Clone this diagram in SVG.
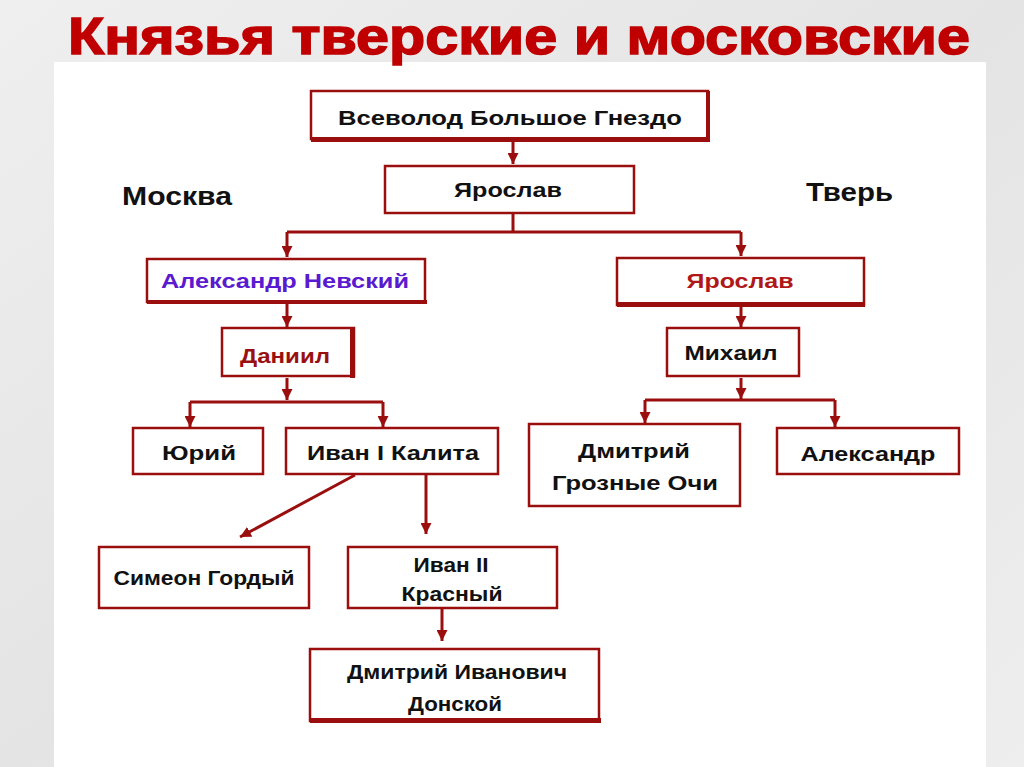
<svg xmlns="http://www.w3.org/2000/svg" width="1024" height="767" viewBox="0 0 1024 767">
<defs>
<style>
.box{fill:#fff;stroke:#9a0e0e;stroke-width:2.5}
.sh{fill:#9a0e0e}
.t{font-family:"Liberation Sans",Arial,sans-serif;font-weight:bold;font-size:20px;fill:#111;text-anchor:middle}
.lbl{font-family:"Liberation Sans",Arial,sans-serif;font-weight:bold;font-size:26px;fill:#111}
.c{fill:none;stroke:#9a0e0e;stroke-width:3}
</style>
<marker id="ah" viewBox="0 0 10 10" refX="10" refY="5" markerWidth="11" markerHeight="11" orient="auto" markerUnits="userSpaceOnUse">
<path d="M0,0 L10,5 L0,10 Z" fill="#9a0e0e"/>
</marker>
<linearGradient id="bg" x1="0" y1="0" x2="1" y2="1">
<stop offset="0" stop-color="#efefef"/>
<stop offset="0.5" stop-color="#e4e4e4"/>
<stop offset="1" stop-color="#eeeeee"/>
</linearGradient>
</defs>
<rect x="0" y="0" width="1024" height="767" fill="url(#bg)"/>
<rect x="54" y="62" width="932" height="705" fill="#fff"/>
<text x="68" y="54" textLength="902" lengthAdjust="spacingAndGlyphs" font-family="'Liberation Sans',Arial,sans-serif" font-weight="bold" font-size="52" fill="#c00000" stroke="#c00000" stroke-width="1.5">Князья тверские и московские</text>

<text class="lbl" x="122" y="205" textLength="110" lengthAdjust="spacingAndGlyphs">Москва</text>
<text class="lbl" x="806" y="201" textLength="87" lengthAdjust="spacingAndGlyphs">Тверь</text>

<g id="connectors">
<path class="c" d="M513,141 V164" marker-end="url(#ah)"/>
<path class="c" d="M513,213 V232"/>
<path class="c" d="M287,232 H741"/>
<path class="c" d="M287,232 V257" marker-end="url(#ah)"/>
<path class="c" d="M741,232 V256" marker-end="url(#ah)"/>
<path class="c" d="M287,304 V327" marker-end="url(#ah)"/>
<path class="c" d="M741,307 V327" marker-end="url(#ah)"/>
<path class="c" d="M287,378 V400" marker-end="url(#ah)"/>
<path class="c" d="M741,378 V399" marker-end="url(#ah)"/>
<path class="c" d="M190,402 H383"/>
<path class="c" d="M190,402 V427" marker-end="url(#ah)"/>
<path class="c" d="M383,402 V427" marker-end="url(#ah)"/>
<path class="c" d="M645,400 H835"/>
<path class="c" d="M645,400 V423" marker-end="url(#ah)"/>
<path class="c" d="M835,400 V427" marker-end="url(#ah)"/>
<path class="c" d="M355,475 L240,537" stroke-width="2.5" marker-end="url(#ah)"/>
<path class="c" d="M426,475 V534" stroke-width="2" marker-end="url(#ah)"/>
<path class="c" d="M442,609 V641" stroke-width="2" marker-end="url(#ah)"/>
</g>

<g id="n-vsevolod">
<rect class="box" x="311" y="91" width="397" height="48" stroke-width="3"/>
<rect class="sh" x="311" y="137" width="399" height="5"/>
<rect class="sh" x="706" y="91" width="4" height="51"/>
<text class="t" x="510" y="125" textLength="344" lengthAdjust="spacingAndGlyphs">Всеволод Большое Гнездо</text>
</g>
<g id="n-yaroslav">
<rect class="box" x="385" y="166" width="249" height="47" stroke-width="2"/>
<text class="t" x="508" y="197" textLength="108" lengthAdjust="spacingAndGlyphs">Ярослав</text>
</g>
<g id="n-nevsky">
<rect class="box" x="147" y="259" width="278" height="43" stroke-width="3"/>
<rect class="sh" x="147" y="300" width="280" height="4"/>
<text class="t" x="285" y="288" textLength="248" lengthAdjust="spacingAndGlyphs" style="fill:#5a1ad0">Александр Невский</text>
</g>
<g id="n-daniil">
<rect class="box" x="222" y="328" width="132" height="48" stroke-width="3"/>
<rect class="sh" x="350" y="328" width="5" height="50"/>
<text class="t" x="285" y="363" textLength="90" lengthAdjust="spacingAndGlyphs" style="fill:#9a1010">Даниил</text>
</g>
<g id="n-yaroslav2">
<rect class="box" x="617" y="258" width="247" height="47" stroke-width="2.5"/>
<rect class="sh" x="617" y="302" width="248" height="5"/>
<text class="t" x="740" y="288" textLength="107" lengthAdjust="spacingAndGlyphs" style="fill:#b01818">Ярослав</text>
</g>
<g id="n-mikhail">
<rect class="box" x="667" y="328" width="132" height="48" stroke-width="2.5"/>
<text class="t" x="731" y="360" textLength="93" lengthAdjust="spacingAndGlyphs">Михаил</text>
</g>
<g id="n-yuri">
<rect class="box" x="133" y="428" width="130" height="46" stroke-width="2.5"/>
<text class="t" x="199" y="460" textLength="74" lengthAdjust="spacingAndGlyphs">Юрий</text>
</g>
<g id="n-ivan1">
<rect class="box" x="286" y="428" width="212" height="46" stroke-width="2.5"/>
<text class="t" x="393" y="460" textLength="172" lengthAdjust="spacingAndGlyphs">Иван I Калита</text>
</g>
<g id="n-dmitry-groznye">
<rect class="box" x="529" y="424" width="211" height="82" stroke-width="2.5"/>
<text class="t" x="634" y="458" textLength="112" lengthAdjust="spacingAndGlyphs">Дмитрий</text>
<text class="t" x="635" y="490" textLength="166" lengthAdjust="spacingAndGlyphs">Грозные Очи</text>
</g>
<g id="n-alexandr">
<rect class="box" x="777" y="428" width="182" height="46" stroke-width="2.5"/>
<text class="t" x="868" y="461" textLength="135" lengthAdjust="spacingAndGlyphs">Александр</text>
</g>
<g id="n-simeon">
<rect class="box" x="99" y="547" width="210" height="61" stroke-width="2.5"/>
<text class="t" x="204" y="585" textLength="181" lengthAdjust="spacingAndGlyphs">Симеон Гордый</text>
</g>
<g id="n-ivan2">
<rect class="box" x="348" y="547" width="209" height="61" stroke-width="2.5"/>
<text class="t" x="451" y="572" textLength="75" lengthAdjust="spacingAndGlyphs">Иван II</text>
<text class="t" x="452" y="601" textLength="101" lengthAdjust="spacingAndGlyphs">Красный</text>
</g>
<g id="n-donskoy">
<rect class="box" x="310" y="649" width="289" height="72" stroke-width="3"/>
<rect class="sh" x="310" y="718" width="291" height="5"/>
<text class="t" x="457" y="679" textLength="220" lengthAdjust="spacingAndGlyphs">Дмитрий Иванович</text>
<text class="t" x="455" y="711" textLength="94" lengthAdjust="spacingAndGlyphs">Донской</text>
</g>
</svg>
